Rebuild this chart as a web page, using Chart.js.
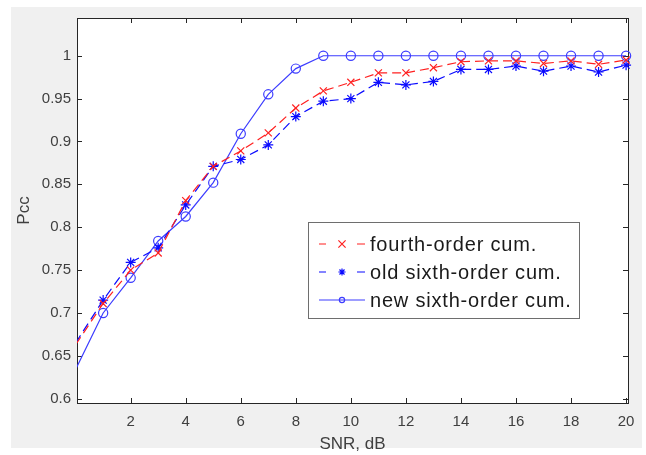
<!DOCTYPE html>
<html>
<head>
<meta charset="utf-8">
<script src="https://cdn.jsdelivr.net/npm/chart.js@4.4.1/dist/chart.umd.min.js"></script>
<style>
html, body { margin: 0; padding: 0; background: #fff; }
#wrap { width: 646px; height: 455px; }
</style>
</head>
<body>
<div id="wrap"><canvas id="pccChart" width="646" height="455"></canvas></div>
<script>
// values
const snr = [0, 1, 2, 3, 4, 5, 6, 7, 8, 9, 10, 11, 12, 13, 14, 15, 16, 17, 18, 19, 20];
const fourthOrder = [0.663, 0.711, 0.750, 0.770, 0.831, 0.871, 0.889, 0.910, 0.939, 0.959, 0.969,
                     0.980, 0.980, 0.986, 0.993, 0.994, 0.994, 0.991, 0.994, 0.990, 0.995];
const oldSixthOrder = [0.665, 0.715, 0.759, 0.776, 0.826, 0.871, 0.879, 0.896, 0.929, 0.947, 0.950,
                       0.969, 0.966, 0.970, 0.984, 0.984, 0.988, 0.982, 0.988, 0.981, 0.989];
const newSixthOrder = [0.634, 0.700, 0.741, 0.784, 0.8125, 0.852, 0.909, 0.955, 0.985, 1, 1,
                       1, 1, 1, 1, 1, 1, 1, 1, 1, 1];
const seriesNames = ['fourth-order cum.', 'old sixth-order cum.', 'new sixth-order cum.'];
const xTicks = [2, 4, 6, 8, 10, 12, 14, 16, 18, 20];
const yTicks = [0.6, 0.65, 0.7, 0.75, 0.8, 0.85, 0.9, 0.95, 1];

const FONT = "'Liberation Sans', Arial, Helvetica, sans-serif";
const AXIS = '#262626';

function toPoints(arr) {
    return arr.map(function (v, i) { return { x: snr[i], y: v }; });
}

// no marker on the first sample (it sits on the left edge)
function markerSize(r) {
    return function (c) { return c.dataIndex === 0 ? 0 : r; };
}

function drawMarker(ctx, style, x, y, r) {
    ctx.beginPath();
    if (style === 'circle') {
        ctx.arc(x, y, r, 0, Math.PI * 2);
    } else if (style === 'crossRot') {
        ctx.moveTo(x - r, y - r); ctx.lineTo(x + r, y + r);
        ctx.moveTo(x - r, y + r); ctx.lineTo(x + r, y - r);
    } else {
        ctx.moveTo(x - r, y); ctx.lineTo(x + r, y);
        ctx.moveTo(x, y - r); ctx.lineTo(x, y + r);
        const d = r * 0.7;
        ctx.moveTo(x - d, y - d); ctx.lineTo(x + d, y + d);
        ctx.moveTo(x - d, y + d); ctx.lineTo(x + d, y - d);
    }
    ctx.stroke();
}

const matlabFrame = {
    id: 'matlabFrame',
    beforeDraw: function (chart) {
        const ctx = chart.ctx;
        const a = chart.chartArea;
        ctx.save();
        ctx.fillStyle = '#ffffff';
        ctx.fillRect(0, 0, chart.width, chart.height);
        ctx.fillStyle = '#f0f0f0';
        ctx.fillRect(11, 7, 631, 441);
        ctx.fillStyle = '#ffffff';
        ctx.fillRect(a.left, a.top, a.right - a.left, a.bottom - a.top);
        ctx.restore();
    },
    beforeDatasetsDraw: function (chart) {
        const ctx = chart.ctx;
        const a = chart.chartArea;
        const xs = chart.scales.x;
        const ys = chart.scales.y;
        ctx.save();
        ctx.strokeStyle = AXIS;
        ctx.lineWidth = 1;
        ctx.beginPath();
        xTicks.forEach(function (v) {
            const px = Math.round(xs.getPixelForValue(v)) + 0.5;
            ctx.moveTo(px, a.bottom); ctx.lineTo(px, a.bottom - 5);
            ctx.moveTo(px, a.top); ctx.lineTo(px, a.top + 5);
        });
        yTicks.forEach(function (v) {
            const py = Math.round(ys.getPixelForValue(v)) + 0.5;
            ctx.moveTo(a.left, py); ctx.lineTo(a.left + 5, py);
            ctx.moveTo(a.right, py); ctx.lineTo(a.right - 5, py);
        });
        ctx.stroke();
        ctx.strokeRect(Math.round(a.left) + 0.5, Math.round(a.top) + 0.5,
                       Math.round(a.right - a.left), Math.round(a.bottom - a.top));
        ctx.restore();
    },
    afterDraw: function (chart) {
        const ctx = chart.ctx;
        const box = { x: 308.5, y: 222.5, w: 271, h: 96 };
        ctx.save();
        ctx.fillStyle = '#ffffff';
        ctx.fillRect(box.x, box.y, box.w, box.h);
        ctx.strokeStyle = '#6e6e6e';
        ctx.lineWidth = 1;
        ctx.strokeRect(box.x, box.y, box.w, box.h);
        ctx.font = '20px ' + FONT;
        ctx.letterSpacing = '0.8px';
        ctx.textBaseline = 'middle';
        ctx.textAlign = 'left';
        chart.data.datasets.forEach(function (ds, i) {
            const y = 244 + i * 28;
            ctx.strokeStyle = ds.borderColor;
            ctx.lineWidth = 1.2;
            ctx.beginPath();
            if (ds.borderDash && ds.borderDash.length) {
                ctx.moveTo(319, y); ctx.lineTo(326, y);
                ctx.moveTo(357, y); ctx.lineTo(365, y);
            } else {
                ctx.moveTo(319, y); ctx.lineTo(365, y);
            }
            ctx.stroke();
            drawMarker(ctx, ds.pointStyle, 342, y, ds.pointStyle === 'circle' ? 2.6 : 3.6);
            ctx.fillStyle = '#1a1a1a';
            ctx.fillText(ds.label, 370, y + 1);
        });
        ctx.restore();
    }
};

new Chart(document.getElementById('pccChart'), {
    type: 'line',
    data: {
        datasets: [{
            label: seriesNames[0],
            data: toPoints(fourthOrder),
            borderColor: '#ff2020',
            borderWidth: 1.2,
            borderDash: [9, 5],
            pointStyle: 'crossRot',
            pointRadius: markerSize(5),
            pointBorderColor: '#ff2020',
            pointBorderWidth: 1.2,
            pointBackgroundColor: 'transparent',
            tension: 0,
            clip: { left: 0, top: 10, right: 10, bottom: 0 }
        }, {
            label: seriesNames[1],
            data: toPoints(oldSixthOrder),
            borderColor: '#0a0aff',
            borderWidth: 1.2,
            borderDash: [9, 5],
            pointStyle: 'star',
            pointRadius: markerSize(5),
            pointBorderColor: '#0a0aff',
            pointBorderWidth: 1.2,
            pointBackgroundColor: 'transparent',
            tension: 0,
            clip: { left: 0, top: 10, right: 10, bottom: 0 }
        }, {
            label: seriesNames[2],
            data: toPoints(newSixthOrder),
            borderColor: '#3c3cff',
            borderWidth: 1.2,
            pointStyle: 'circle',
            pointRadius: markerSize(4.6),
            pointBorderColor: '#3c3cff',
            pointBorderWidth: 1.2,
            pointBackgroundColor: 'transparent',
            tension: 0,
            clip: { left: 0, top: 10, right: 10, bottom: 0 }
        }]
    },
    options: {
        responsive: false,
        animation: false,
        events: [],
        layout: { padding: { top: 18, right: 18, left: 0, bottom: 0 } },
        plugins: {
            legend: { display: false },
            tooltip: { enabled: false }
        },
        scales: {
            x: {
                type: 'linear',
                min: 0.05,
                max: 20.07,
                afterBuildTicks: function (s) { s.ticks = xTicks.map(function (v) { return { value: v }; }); },
                afterFit: function (s) { s.height = 52; },
                grid: { display: false, drawTicks: false },
                border: { display: false },
                ticks: {
                    padding: 10,
                    autoSkip: false,
                    maxRotation: 0,
                    color: '#404040',
                    font: { family: FONT, size: 15 },
                    callback: function (v) { return String(v); }
                },
                title: {
                    display: true,
                    text: 'SNR, dB',
                    color: '#404040',
                    font: { family: FONT, size: 17 },
                    padding: { top: 0, bottom: 0 }
                }
            },
            y: {
                type: 'linear',
                min: 0.595,
                max: 1.044,
                afterBuildTicks: function (s) { s.ticks = yTicks.map(function (v) { return { value: v }; }); },
                afterFit: function (s) { s.width = 77; },
                grid: { display: false, drawTicks: false },
                border: { display: false },
                ticks: {
                    padding: 6,
                    autoSkip: false,
                    color: '#404040',
                    font: { family: FONT, size: 15 },
                    callback: function (v) { return String(+v.toFixed(3)); }
                },
                title: {
                    display: true,
                    text: 'Pcc',
                    color: '#404040',
                    font: { family: FONT, size: 17 },
                    padding: { top: 14, bottom: 0 }
                }
            }
        }
    },
    plugins: [matlabFrame]
});
</script>
</body>
</html>
